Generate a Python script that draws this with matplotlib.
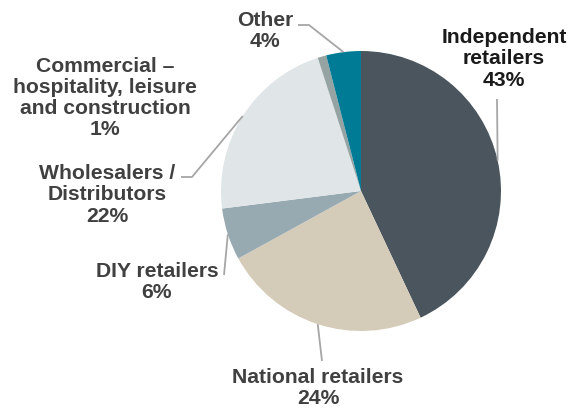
import numpy as np
import matplotlib.pyplot as plt

labels = ['Independent\nretailers', 'National retailers', 'DIY retailers',
          'Wholesalers /\nDistributors', 'Commercial \u2013\nhospitality, leisure\nand construction', 'Other']
shares = [43, 24, 6, 22, 1, 4]
colors = ['#4a555d', '#d5cbb9', '#98aab1', '#e0e5e8', '#95a3a3', '#007b96']
text_colors = ['#1a1a1a', '#404040', '#404040', '#404040', '#404040', '#404040']

# label centres and leader elbows, in pixels from top-left
label_pos = [(504, 59), (318, 388), (157, 282), (107, 195), (105, 98), (265, 31)]
elbows = [[(497, 99)], [(322, 361)], [(224, 275)], [(192, 177), (181, 177)], [], [(309, 25), (298, 25)]]

W, H = 569, 411
cx, cy, r = 361, 191, 140

fig = plt.figure(figsize=(W / 100, H / 100), dpi=100)
ax = fig.add_axes([0, 0, 1, 1])
ax.pie(shares, colors=colors, startangle=90, counterclock=False,
       center=(cx, H - cy), radius=r, wedgeprops={'linewidth': 0})
ax.set_xlim(0, W)
ax.set_ylim(0, H)
ax.set_aspect('equal')
ax.axis('off')

total = float(sum(shares))
start = 0.0
for i, s in enumerate(shares):
    mid = (start + s / 2) / total * 360
    start += s
    ang = np.deg2rad(90 - mid)
    ex, ey = cx + r * np.cos(ang), H - cy + r * np.sin(ang)
    if elbows[i]:
        xs = [ex] + [p[0] for p in elbows[i]]
        ys = [ey] + [H - p[1] for p in elbows[i]]
        ax.plot(xs, ys, color='#a6a6a6', lw=1.3, solid_capstyle='butt')
    lx, ly = label_pos[i]
    ax.text(lx, H - ly, '%s\n%d%%' % (labels[i], s), ha='center', va='center',
            fontsize=15.2, fontweight='bold', family='Liberation Sans',
            color=text_colors[i], linespacing=1.15)

fig.savefig('out.png', dpi=100)
